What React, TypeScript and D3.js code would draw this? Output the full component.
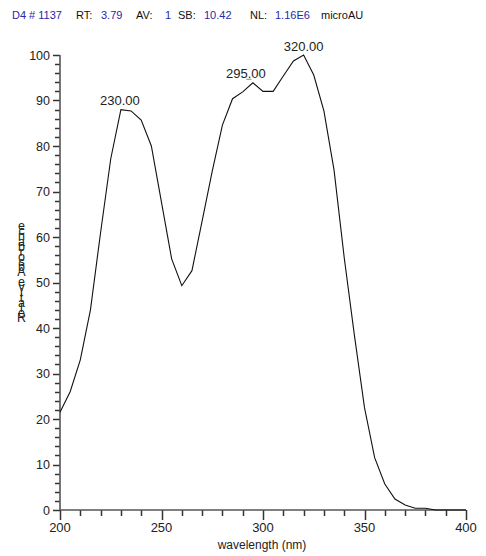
import { useEffect, useRef } from "react";
import * as d3 from "d3";

const WIDTH = 486;
const HEIGHT = 556;
const MARGIN = { top: 55, right: 20, bottom: 46, left: 60 };

const WAVELENGTHS = [
  200, 205, 210, 215, 220, 225, 230, 235, 240, 245, 250, 255, 260, 265, 270,
  275, 280, 285, 290, 295, 300, 305, 310, 315, 320, 325, 330, 335, 340, 345,
  350, 355, 360, 365, 370, 375, 380, 385, 390, 395, 400,
];
const ABSORBANCE = [
  21.5, 26, 33, 44, 61, 77.2, 88, 87.7, 85.7, 80, 67.6, 55.2, 49.3, 52.6, 63.5,
  74.5, 84.6, 90.4, 91.9, 93.9, 92, 92, 95.4, 98.7, 100, 95.6, 87.7, 74.7, 55.5,
  38.5, 22.5, 11.5, 5.7, 2.4, 1.1, 0.4, 0.4, 0, 0, 0, 0,
];
const PEAKS = [230, 295, 320];

const TITLE_PARTS = [
  { text: "D4 # 1137", x: 12, blue: true },
  { text: "RT:", x: 76, blue: false },
  { text: "3.79", x: 101, blue: true },
  { text: "AV:", x: 136, blue: false },
  { text: "1", x: 165, blue: true },
  { text: "SB:", x: 178, blue: false },
  { text: "10.42", x: 204, blue: true },
  { text: "NL:", x: 250, blue: false },
  { text: "1.16E6", x: 275, blue: true },
  { text: "microAU", x: 321, blue: false },
];

const X_MINOR_TICKS = d3.range(200, 401, 10);
const X_MAJOR_TICKS = [200, 250, 300, 350, 400];
const Y_MINOR_TICKS = d3.range(0, 101, 2);
const Y_MAJOR_TICKS = [0, 10, 20, 30, 40, 50, 60, 70, 80, 90, 100];

const Y_LABEL = "Relative Absorbance";
const X_LABEL = "wavelength (nm)";
const FONT = "Liberation Sans, Arial, sans-serif";
const TICK_COLOR = "#333";
// horizontal nudge of each peak label (the 295 one sits left of its peak)
const PEAK_LABEL_DX: Record<number, number> = { 230: -1, 295: -7, 320: 0 };

function drawChart(svgEl: SVGSVGElement) {
  const svg = d3.select(svgEl);
  svg.selectAll("*").remove();

  const x = d3
    .scaleLinear()
    .domain([200, 400])
    .range([MARGIN.left, WIDTH - MARGIN.right]);
  const y = d3
    .scaleLinear()
    .domain([0, 100])
    .range([HEIGHT - MARGIN.bottom, MARGIN.top]);
  const xBase = HEIGHT - MARGIN.bottom;

  // title line
  svg
    .append("g")
    .selectAll("text")
    .data(TITLE_PARTS)
    .join("text")
    .attr("x", (d) => d.x)
    .attr("y", 19)
    .attr("font-family", FONT)
    .attr("font-size", 11)
    .attr("fill", (d) => (d.blue ? "#2828a8" : "#111"))
    .text((d) => d.text);

  // tick marks
  const ticks = svg.append("g").attr("stroke", TICK_COLOR).attr("stroke-width", 1.5);
  ticks
    .selectAll("line.xt")
    .data(X_MINOR_TICKS)
    .join("line")
    .attr("class", "xt")
    .attr("x1", (d) => Math.round(x(d)) + 0.5)
    .attr("x2", (d) => Math.round(x(d)) + 0.5)
    .attr("y1", xBase)
    .attr("y2", (d) => xBase + (X_MAJOR_TICKS.includes(d) ? 10 : 6));
  ticks
    .selectAll("line.yt")
    .data(Y_MINOR_TICKS)
    .join("line")
    .attr("class", "yt")
    .attr("x1", (d) => MARGIN.left - (Y_MAJOR_TICKS.includes(d) ? 7 : 5))
    .attr("x2", MARGIN.left)
    .attr("y1", (d) => Math.round(y(d)) + 0.5)
    .attr("y2", (d) => Math.round(y(d)) + 0.5);

  // axis lines
  svg
    .append("line")
    .attr("x1", MARGIN.left)
    .attr("x2", WIDTH - MARGIN.right)
    .attr("y1", xBase)
    .attr("y2", xBase)
    .attr("stroke", "#555")
    .attr("stroke-width", 1.6);
  svg
    .append("line")
    .attr("x1", MARGIN.left)
    .attr("x2", MARGIN.left)
    .attr("y1", y(100))
    .attr("y2", xBase)
    .attr("stroke", "#555")
    .attr("stroke-width", 1.6);

  // tick labels
  svg
    .append("g")
    .selectAll("text")
    .data(X_MAJOR_TICKS)
    .join("text")
    .attr("x", (d) => x(d))
    .attr("y", xBase + 22)
    .attr("text-anchor", "middle")
    .attr("font-family", FONT)
    .attr("font-size", 13)
    .attr("fill", "#222")
    .text((d) => d);
  svg
    .append("g")
    .selectAll("text")
    .data(Y_MAJOR_TICKS)
    .join("text")
    .attr("x", MARGIN.left - 10)
    .attr("y", (d) => y(d))
    .attr("dy", "0.36em")
    .attr("text-anchor", "end")
    .attr("font-family", FONT)
    .attr("font-size", 12.5)
    .attr("fill", "#222")
    .text((d) => d);

  // axis labels
  svg
    .append("text")
    .attr("x", (MARGIN.left + WIDTH - MARGIN.right) / 2 - 1)
    .attr("y", 549)
    .attr("text-anchor", "middle")
    .attr("font-family", FONT)
    .attr("font-size", 12)
    .attr("fill", "#222")
    .text(X_LABEL);

  // the y label letters are stacked upright and overlap, as in the source
  svg
    .append("g")
    .selectAll("text")
    .data(Y_LABEL.split(""))
    .join("text")
    .attr("x", 21.5)
    .attr("y", (_d, i) => 322 - i * 5.1)
    .attr("text-anchor", "middle")
    .attr("font-family", FONT)
    .attr("font-size", 12.5)
    .attr("fill", "#222")
    .text((d) => d);

  // spectrum
  const data = WAVELENGTHS.map((w, i) => ({ w, v: ABSORBANCE[i] }));
  const line = d3
    .line<{ w: number; v: number }>()
    .x((d) => x(d.w))
    .y((d) => y(d.v));
  svg
    .append("path")
    .datum(data)
    .attr("fill", "none")
    .attr("stroke", "#111")
    .attr("stroke-width", 1.1)
    .attr("d", line);

  // peak labels
  const peaks = PEAKS.map((w) => data.find((d) => d.w === w)!);
  svg
    .append("g")
    .selectAll("text")
    .data(peaks)
    .join("text")
    .attr("x", (d) => x(d.w) + PEAK_LABEL_DX[d.w])
    .attr("y", (d) => y(d.v) - 4.5)
    .attr("text-anchor", "middle")
    .attr("font-family", FONT)
    .attr("font-size", 13)
    .attr("fill", "#222")
    .text((d) => d.w.toFixed(2));

  // small green marker under the 295 label's decimal point
  const p295 = peaks[1];
  const mx = x(p295.w) + PEAK_LABEL_DX[p295.w] + 3;
  svg
    .append("line")
    .attr("x1", mx - 2.5)
    .attr("x2", mx + 2.5)
    .attr("y1", y(p295.v) - 3.5)
    .attr("y2", y(p295.v) - 3.5)
    .attr("stroke", "#4caf50")
    .attr("stroke-width", 1);
}

export default function App() {
  const ref = useRef<SVGSVGElement>(null);

  useEffect(() => {
    if (ref.current) drawChart(ref.current);
  }, []);

  return (
    <div style={{ position: "fixed", left: 0, top: 0, background: "#fff" }}>
      <svg ref={ref} width={WIDTH} height={HEIGHT} style={{ display: "block" }} />
    </div>
  );
}
